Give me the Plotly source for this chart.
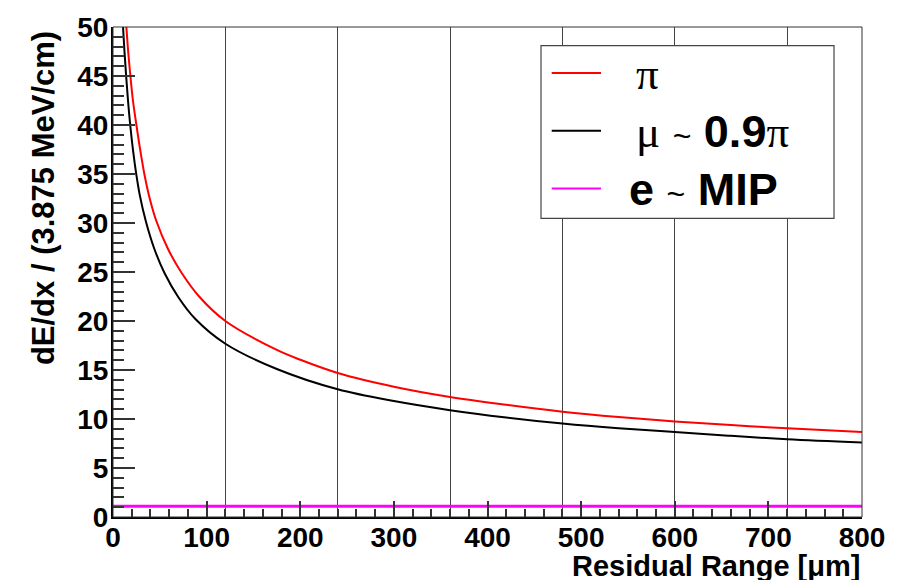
import plotly.graph_objects as go

# Residual range [um] and dE/dx readings for each particle hypothesis
residual_pi = [14.3, 16.2, 18.6, 21.3, 25, 29, 33.9, 39.5, 46.3, 58.5, 72.7, 92, 120,
               175, 200, 240, 300, 360, 420, 480, 540, 600, 660, 720, 800]
dedx_pi = [50, 47.5, 45, 42.5, 40, 37.5, 34.8, 32.4, 30.2, 27.4, 25, 22.5, 20.0,
           17.05, 16.05, 14.7, 13.3, 12.25, 11.45, 10.75, 10.2, 9.75, 9.38, 9.05, 8.67]

residual_mu = [10.7, 12.2, 14.2, 16.2, 18.5, 21.4, 24.5, 28.5, 35, 44, 55, 70, 88, 120,
               175, 240, 300, 360, 420, 480, 540, 600, 660, 720, 800]
dedx_mu = [50, 47.6, 44.8, 42.3, 39.9, 37.4, 35.2, 32.9, 30.2, 27.4, 24.9, 22.4, 20.2, 17.68,
           15.1, 13.03, 11.83, 10.9, 10.15, 9.53, 9.05, 8.67, 8.28, 7.93, 7.59]

residual_e = [0, 800]
dedx_e = [1.1, 1.1]

legend_labels = [
    '<span style="font-family:Liberation Serif;font-weight:normal">π</span>',
    '<span style="font-family:Liberation Serif;font-weight:normal">μ</span> '
    '<span style="font-size:32px;font-weight:normal">~</span> 0.9'
    '<span style="font-family:Liberation Serif;font-weight:normal">π</span>',
    'e <span style="font-size:32px;font-weight:normal">~</span> MIP',
]
legend_colors = ['#ff0000', '#000000', '#ff00ff']

x_title = 'Residual Range [μm]'
y_title = 'dE/dx / (3.875 MeV/cm)'

W, H = 907, 580
ML, MR, MT, MB = 113, 45, 23, 63
PW = W - ML - MR
PH = H - MT - MB


def px_x(p):
    return (p - ML) / PW


def px_y(p):
    return (H - MB - p) / PH


fig = go.Figure()
fig.add_trace(go.Scatter(x=residual_pi, y=dedx_pi, mode='lines', name='π',
                         line=dict(color=legend_colors[0], width=2, shape='spline'),
                         showlegend=False))
fig.add_trace(go.Scatter(x=residual_mu, y=dedx_mu, mode='lines', name='μ ~ 0.9π',
                         line=dict(color=legend_colors[1], width=2, shape='spline'),
                         showlegend=False))
fig.add_trace(go.Scatter(x=residual_e, y=dedx_e, mode='lines', name='e ~ MIP',
                         line=dict(color=legend_colors[2], width=3),
                         showlegend=False))
# helper trace for the overlay grid axis
fig.add_trace(go.Scatter(x=[None], y=[None], xaxis='x2', yaxis='y', mode='lines',
                         showlegend=False, hoverinfo='skip'))

tickfont = dict(family='Liberation Sans', size=28, color='black', weight='bold')

fig.update_layout(
    width=W, height=H,
    margin=dict(l=ML, r=MR, t=MT, b=MB, pad=0),
    paper_bgcolor='white', plot_bgcolor='white',
    xaxis=dict(range=[0, 800], tick0=0, dtick=100, ticks='inside', ticklen=16,
               tickwidth=1.5, tickcolor='#333', showgrid=False, zeroline=False,
               showline=True, linewidth=2, linecolor='black', tickfont=tickfont,
               ticklabelstandoff=-6,
               minor=dict(dtick=20, ticks='inside', ticklen=8, tickwidth=1.5,
                          tickcolor='#333', showgrid=False)),
    xaxis2=dict(range=[0, 800], overlaying='x', anchor='y', side='bottom', tick0=0,
                dtick=120, showgrid=True, gridcolor='#444', gridwidth=1,
                showticklabels=False, ticks='', showline=False, zeroline=False),
    yaxis=dict(range=[0, 50], tick0=0, dtick=5, ticks='inside', ticklen=22,
               tickwidth=1.5, tickcolor='#333', showgrid=False, zeroline=False,
               showline=True, linewidth=2, linecolor='black', tickfont=tickfont,
               ticklabelstandoff=-3,
               minor=dict(dtick=1, ticks='inside', ticklen=11, tickwidth=1.5,
                          tickcolor='#333', showgrid=False)),
)

shapes = [
    dict(type='rect', xref='paper', yref='paper', x0=0, x1=1, y0=0, y1=1,
         line=dict(color='#333', width=1), layer='above'),
    dict(type='rect', xref='paper', yref='paper', x0=px_x(541), x1=px_x(834),
         y0=px_y(216), y1=px_y(41.7), fillcolor='white',
         line=dict(color='#444', width=1.2), layer='above'),
]
annotations = [
    dict(text=y_title, textangle=-90, xref='paper', yref='paper', x=px_x(43),
         y=px_y(195.5), xanchor='center', yanchor='middle', showarrow=False,
         font=dict(family='Liberation Sans', size=31, color='black', weight='bold')),
    dict(text=x_title, xref='paper', yref='paper', x=px_x(862), y=px_y(566),
         xanchor='right', yanchor='middle', showarrow=False,
         font=dict(family='Liberation Sans', size=29, color='black', weight='bold')),
]
entry_y = [69.3, 127.7, 185.7]
text_x = [634, 634, 627]
for lab, col, ey, tx in zip(legend_labels, legend_colors, entry_y, text_x):
    shapes.append(dict(type='line', xref='paper', yref='paper', x0=px_x(551.7),
                       x1=px_x(601), y0=px_y(ey), y1=px_y(ey),
                       line=dict(color=col, width=2), layer='above'))
    annotations.append(dict(text=lab, xref='paper', yref='paper', x=px_x(tx),
                            y=px_y(ey + 1), xanchor='left', yanchor='middle',
                            showarrow=False,
                            font=dict(family='Liberation Sans', size=45,
                                      color='black', weight='bold')))

fig.update_layout(shapes=shapes, annotations=annotations)
fig.write_html('out.html',
               config={'displayModeBar': False},
               post_script="document.body.style.margin='0';"
                           "document.body.style.overflow='hidden';")
